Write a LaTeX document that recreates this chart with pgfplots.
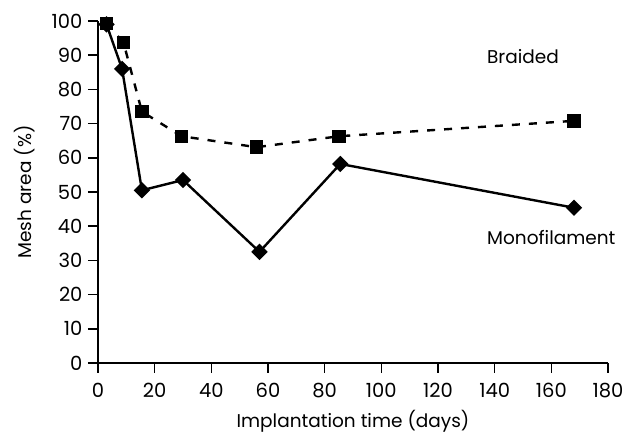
\documentclass[border=0pt]{standalone}
\usepackage{pgfplots}
\pgfplotsset{compat=1.18}
\usepackage{fontspec}
\setmainfont{Poppins}
\begin{document}
\begin{tikzpicture}
\useasboundingbox (-98pt,-73pt) rectangle (534pt,363pt);
\begin{axis}[
  at={(0,0)}, anchor=south west,
  scale only axis, width=510pt, height=342pt,
  xmin=0, xmax=180, ymin=0, ymax=100,
  enlargelimits=false,
  axis lines=left, axis line style={-, line width=1.8pt},
  xtick={0,20,...,180}, ytick={0,10,...,100},
  tick align=outside, major tick length=10pt,
  tick style={line width=1.6pt, black},
  /pgf/number format/assume math mode=true,
  tick label style={font=\fontsize{19.5}{21}\selectfont},
  yticklabel style={xshift=-2pt},
  xticklabel style={yshift=-7pt},
  xlabel={Implantation time (days)},
  ylabel={Mesh area (\%)},
  label style={font=\fontsize{18.5}{21}\selectfont},
  xlabel style={yshift=-5pt},
  ylabel style={yshift=10pt},
  clip=false,
]
\addplot[black, line width=2.4pt, dash pattern=on 8pt off 9pt, mark=square*, mark size=5.5pt, mark options={solid}]
  coordinates {(3,99.3) (9,93.7) (15.5,73.5) (29.5,66.3) (56,63.1) (85,66.3) (168,70.8)};
\addplot[black, line width=2.4pt, mark=square*, mark size=4.6pt, mark options={solid, rotate=45}]
  coordinates {(3,99) (8.5,86) (15.5,50.5) (30,53.5) (57,32.5) (85.5,58.2) (168,45.4)};
\node[font=\fontsize{18.5}{21}\selectfont] at (axis cs:150,89.5) {Braided};
\node[font=\fontsize{18.5}{21}\selectfont] at (axis cs:160,36.8) {Monofilament};
\end{axis}
\end{tikzpicture}
\end{document}
